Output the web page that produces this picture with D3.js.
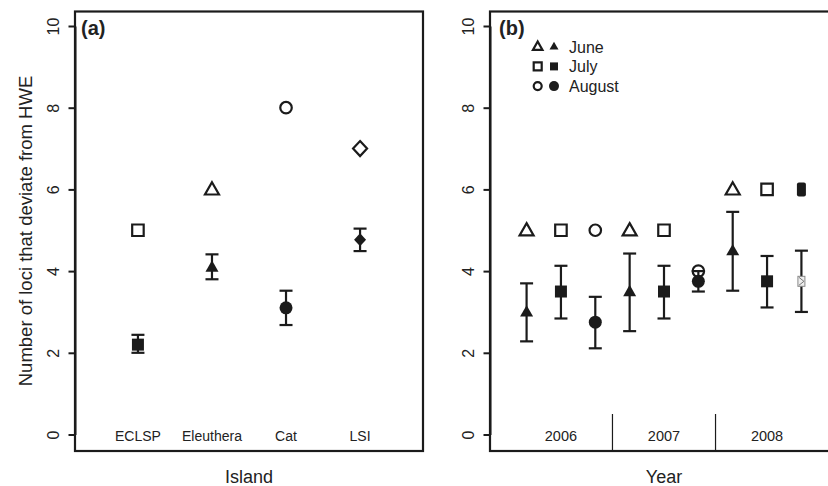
<!DOCTYPE html>
<html>
<head>
<meta charset="utf-8">
<script src="https://cdn.jsdelivr.net/npm/d3@7/dist/d3.min.js"></script>
<style>
  body { margin: 0; background: #fff; }
  text { font-family: "Liberation Sans", Arial, sans-serif; fill: #222; }
</style>
</head>
<body>
<svg id="chart" width="828" height="486"></svg>
<script>
// panel (a): islands
var islands = ['ECLSP', 'Eleuthera', 'Cat', 'LSI'];
var islandShape = ['square', 'triangle', 'circle', 'diamond'];
var islandTotal = [5, 6, 8, 7];
var islandMean = [2.2, 4.1, 3.1, 4.77];
var islandLow = [2.0, 3.8, 2.68, 4.49];
var islandHigh = [2.44, 4.41, 3.52, 5.04];

// panel (b): sampling months by year
var samples = ['Jun 2006', 'Jul 2006', 'Aug 2006', 'Jun 2007', 'Jul 2007', 'Aug 2007', 'Jun 2008', 'Jul 2008', 'Aug 2008'];
var sampleOpenShape = ['triangle', 'square', 'circle', 'triangle', 'square', 'circle', 'triangle', 'square', 'blob'];
var sampleFillShape = ['triangle', 'square', 'circle', 'triangle', 'square', 'circle', 'triangle', 'square', 'box'];
var sampleTotal = [5, 5, 5, 5, 5, 4, 6, 6, 6];
var sampleMean = [3.0, 3.5, 2.75, 3.5, 3.5, 3.75, 4.5, 3.75, 3.75];
var sampleLow = [2.28, 2.84, 2.11, 2.53, 2.84, 3.5, 3.52, 3.11, 3.0];
var sampleHigh = [3.70, 4.13, 3.37, 4.43, 4.13, 4.0, 5.45, 4.37, 4.5];
var years = ['2006', '2007', '2008'];

// legend
var months = ['June', 'July', 'August'];
var monthShape = ['triangle', 'square', 'circle'];

var yTicks = [0, 2, 4, 6, 8, 10];

var ink = '#1b1b1b';
var svg = d3.select('#chart');

var y = d3.scaleLinear().domain([0, 10]).range([434.5, 26]);
var frameTop = 11.5, frameBottom = 451;

//marker paths, s = width in px
function shapePath(type, s) {
  var h = s / 2;
  if (type === 'square') return 'M' + (-h) + ',' + (-h) + 'h' + s + 'v' + s + 'h' + (-s) + 'Z';
  if (type === 'triangle') {
    var t = s * 0.87;
    return 'M0,' + (-t / 2 - 1) + 'L' + h + ',' + (t / 2 - 1) + 'L' + (-h) + ',' + (t / 2 - 1) + 'Z';
  }
  if (type === 'diamond') return 'M0,' + (-h - 0.5) + 'L' + h + ',0L0,' + (h + 0.5) + 'L' + (-h) + ',0Z';
  var p = d3.path();
  p.arc(0, 0, h, 0, 2 * Math.PI);
  return p.toString();
}

function drawOpen(g, type, cx, cy, s) {
  if (type === 'blob') {
    g.append('rect').attr('x', cx - 4.5).attr('y', cy - 7).attr('width', 9).attr('height', 14)
      .attr('rx', 2).attr('fill', ink);
    return;
  }
  g.append('path').attr('d', shapePath(type, s))
    .attr('transform', 'translate(' + cx + ',' + cy + ')')
    .attr('fill', 'none').attr('stroke', ink).attr('stroke-width', 2.2);
}

function drawFilled(g, type, cx, cy, s) {
  if (type === 'box') {
    g.append('rect').attr('x', cx - 3.5).attr('y', cy - 5).attr('width', 7).attr('height', 10)
      .attr('fill', '#eee').attr('stroke', '#888').attr('stroke-width', 1);
    g.append('path').attr('d', 'M' + (cx - 2.5) + ',' + (cy - 4) + 'L' + (cx + 2.5) + ',' + cy + 'L' + (cx - 2.5) + ',' + (cy + 4))
      .attr('fill', 'none').attr('stroke', '#777').attr('stroke-width', 1);
    return;
  }
  var sz = type === 'square' ? s - 1 : s;
  g.append('path').attr('d', shapePath(type, sz))
    .attr('transform', 'translate(' + cx + ',' + cy + ')')
    .attr('fill', ink).attr('stroke', 'none');
}

function errorBar(g, cx, lo, hi) {
  g.append('line').attr('x1', cx).attr('x2', cx).attr('y1', y(lo)).attr('y2', y(hi))
    .attr('stroke', ink).attr('stroke-width', 2.2);
  [lo, hi].forEach(function(v) {
    g.append('line').attr('x1', cx - 6.5).attr('x2', cx + 6.5).attr('y1', y(v)).attr('y2', y(v))
      .attr('stroke', ink).attr('stroke-width', 2.2);
  });
}

function yAxis(left) {
  var g = svg.append('g').attr('transform', 'translate(' + left + ',0)')
    .call(d3.axisLeft(y).tickValues(yTicks).tickSize(6.5).tickSizeOuter(0));
  g.select('.domain').attr('stroke', ink).attr('stroke-width', 2);
  g.selectAll('.tick line').attr('stroke', ink).attr('stroke-width', 2);
  g.selectAll('.tick text')
    .attr('transform', 'rotate(-90)')
    .attr('x', 0).attr('y', -16.5).attr('dy', null)
    .attr('text-anchor', 'middle')
    .style('font-size', '16px').style('font-family', '"Liberation Sans", Arial, sans-serif')
    .attr('fill', '#222');
}

function frame(x0, x1) {
  svg.append('rect').attr('x', x0).attr('y', frameTop).attr('width', x1 - x0).attr('height', frameBottom - frameTop)
    .attr('fill', 'none').attr('stroke', ink).attr('stroke-width', 2.2);
}

//Panel (a)-------------------------------------------------
var xa = d3.scalePoint().domain(islands).range([75, 423]).padding(0.85);
frame(75, 423);
yAxis(75);

var ga = svg.append('g');
islands.forEach(function(d, i) {
  var cx = xa(d);
  drawOpen(ga, islandShape[i], cx, y(islandTotal[i]), islandShape[i] === 'triangle' || islandShape[i] === 'diamond' ? 14 : 11.5);
  errorBar(ga, cx, islandLow[i], islandHigh[i]);
  drawFilled(ga, islandShape[i], cx, y(islandMean[i]), islandShape[i] === 'diamond' ? 12 : 13);
});

ga.selectAll('.isl').data(islands).enter().append('text')
  .attr('x', function(d) { return xa(d); }).attr('y', 440.5)
  .attr('text-anchor', 'middle').style('font-size', '14px')
  .text(function(d) { return d; });

svg.append('text').attr('x', 81).attr('y', 35).style('font-size', '20px').style('font-weight', 'bold').text('(a)');
svg.append('text').attr('x', 249).attr('y', 483).attr('text-anchor', 'middle').style('font-size', '18px').text('Island');
svg.append('text').attr('transform', 'translate(31.5,231) rotate(-90)').attr('text-anchor', 'middle')
  .style('font-size', '18.5px').text('Number of loci that deviate from HWE');

//Panel (b)-------------------------------------------------
var xb = d3.scalePoint().domain(samples).range([490, 838]).padding(1.065);
frame(490, 838);
yAxis(490);

var gb = svg.append('g');
samples.forEach(function(d, i) {
  var cx = xb(d);
  drawOpen(gb, sampleOpenShape[i], cx, y(sampleTotal[i]), sampleOpenShape[i] === 'triangle' ? 14 : 11.5);
  errorBar(gb, cx, sampleLow[i], sampleHigh[i]);
  drawFilled(gb, sampleFillShape[i], cx, y(sampleMean[i]), 13);
});

//year groups along the bottom
var step = xb.step();
years.forEach(function(yr, k) {
  var mid = xb(samples[k * 3 + 1]);
  gb.append('text').attr('x', mid).attr('y', 440.5).attr('text-anchor', 'middle')
    .style('font-size', '14.5px').text(yr);
  if (k > 0) {
    var xd = xb(samples[k * 3]) - step / 2;
    gb.append('line').attr('x1', xd).attr('x2', xd).attr('y1', 414).attr('y2', frameBottom)
      .attr('stroke', ink).attr('stroke-width', 1.2);
  }
});

svg.append('text').attr('x', 499).attr('y', 35).style('font-size', '20px').style('font-weight', 'bold').text('(b)');
svg.append('text').attr('x', 664).attr('y', 483).attr('text-anchor', 'middle').style('font-size', '18px').text('Year');

//legend
var lg = svg.append('g');
months.forEach(function(m, i) {
  var ly = 46.7 + i * 19.7;
  drawOpen(lg, monthShape[i], 537.7, ly, monthShape[i] === 'triangle' ? 9.5 : 8);
  drawFilled(lg, monthShape[i], 554, ly, monthShape[i] === 'circle' ? 10 : 9);
  lg.append('text').attr('x', 569).attr('y', ly + 6).style('font-size', '16px').text(m);
});
</script>
</body>
</html>
